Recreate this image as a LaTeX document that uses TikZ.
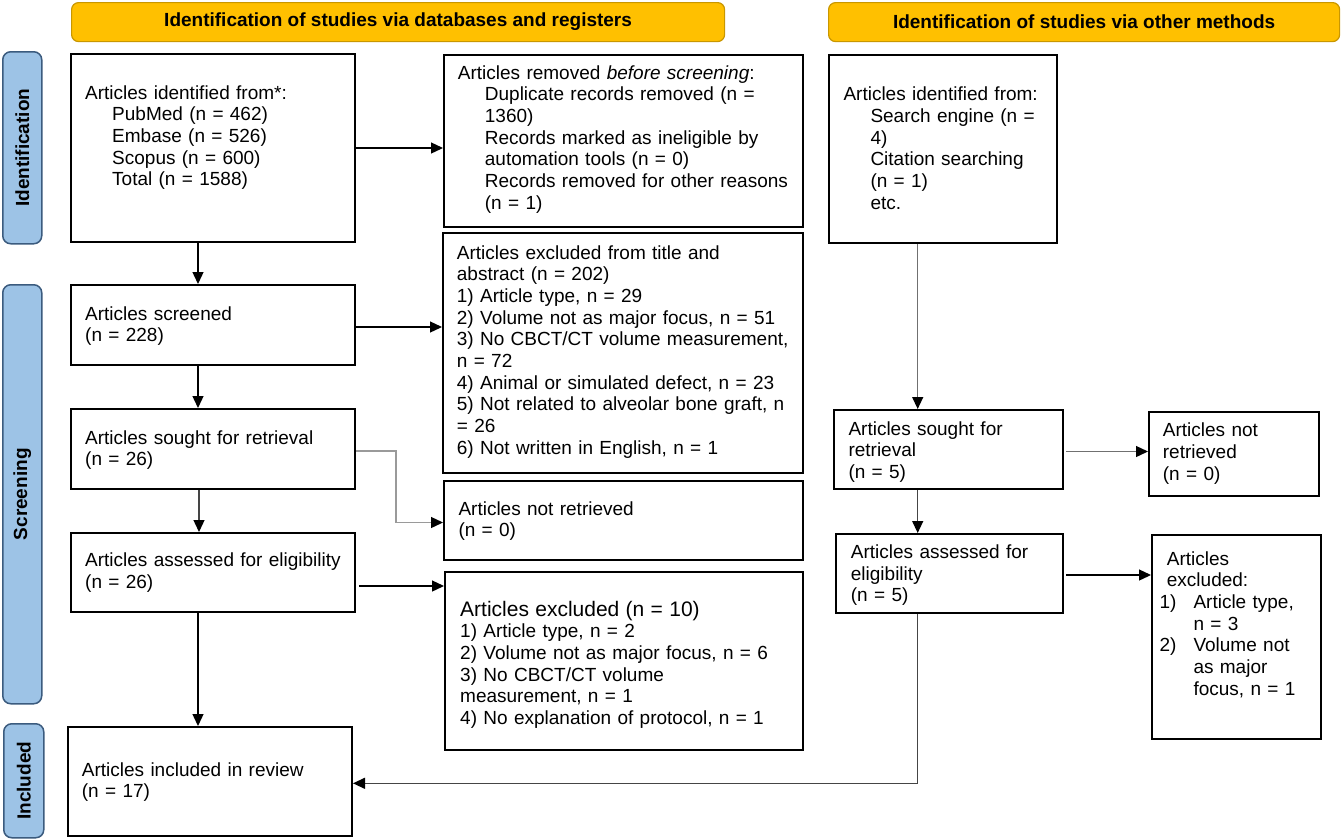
\documentclass[tikz,border=0pt]{standalone}
\usepackage{fontspec}
\setmainfont{Liberation Sans}
\usetikzlibrary{arrows.meta,calc}
\definecolor{hdrfill}{HTML}{FFC000}
\definecolor{hdrdraw}{HTML}{C99700}
\definecolor{sidefill}{HTML}{9DC3E6}
\definecolor{sidedraw}{HTML}{3B5B7E}
\definecolor{lgray}{HTML}{9A9A9A}
\definecolor{mgray}{HTML}{707070}
\definecolor{dgray}{HTML}{454545}
\tikzset{
  box/.style={draw=black, line width=2pt, fill=white, anchor=north west, inner sep=0pt, rectangle},
  hdr/.style={draw=hdrdraw, fill=hdrfill, line width=1.2pt, rounded corners=7pt, anchor=north west, inner sep=0pt,
              font=\fontsize{19}{22}\selectfont\bfseries},
  side/.style={draw=sidedraw, fill=sidefill, line width=1.5pt, rounded corners=8pt, anchor=north west, inner sep=0pt},
  sidetxt/.style={rotate=90, font=\fontsize{19}{22}\selectfont\bfseries},
  txt/.style={anchor=base west, inner sep=0pt, align=left, text width=#1,
              font=\fontsize{19}{21.7}\selectfont},
  txt/.default=400pt,
  arr/.style={line width=1.3pt, -{Triangle[length=12pt, width=11pt, color=black]}},
}
\newcommand{\ind}{\hspace*{27pt}}
\begin{document}
\begin{tikzpicture}[x=1pt, y=-1pt]
\useasboundingbox (0,0) rectangle (1344,839);

% headers
\node[hdr, minimum width=653pt, minimum height=39pt] (h1) at (71,2) {};
\node[font=\fontsize{19}{22}\selectfont\bfseries] (h1t) at (h1.center) {Identification of studies via databases and registers};
\node[hdr, minimum width=511pt, minimum height=39pt] (h2) at (828,2) {};
\node[font=\fontsize{19}{22}\selectfont\bfseries] (h2t) at (h2.center) {Identification of studies via other methods};

% side labels
\node[side, minimum width=39pt, minimum height=192pt] (s1) at (2,51) {};
\node[sidetxt] (s1t) at (s1.center) {Identification};
\node[side, minimum width=39pt, minimum height=419pt] (s2) at (2,284) {};
\node[sidetxt] (s2t) at (s2.center) {Screening};
\node[side, minimum width=40pt, minimum height=114pt] (s3) at (3,723) {};
\node[sidetxt] (s3t) at (s3.center) {Included};

% boxes
\node[box, minimum width=284pt, minimum height=188pt] (A) at (70,53) {};
\node[box, minimum width=359pt, minimum height=172pt] (B) at (443,54) {};
\node[box, minimum width=228pt, minimum height=188pt] (C) at (828,54) {};
\node[box, minimum width=284pt, minimum height=80pt] (D) at (70,284) {};
\node[box, minimum width=360pt, minimum height=240pt] (E) at (442,232) {};
\node[box, minimum width=284pt, minimum height=80pt] (F) at (70,408) {};
\node[box, minimum width=359pt, minimum height=79pt] (G) at (443,480) {};
\node[box, minimum width=284pt, minimum height=79pt] (H) at (70,532) {};
\node[box, minimum width=358pt, minimum height=178pt] (I) at (444,571) {};
\node[box, minimum width=284pt, minimum height=109pt] (J) at (67,726) {};
\node[box, minimum width=229pt, minimum height=79pt] (K) at (833,409) {};
\node[box, minimum width=170pt, minimum height=84pt] (L) at (1148,411) {};
\node[box, minimum width=227pt, minimum height=79pt] (M) at (835,533) {};
\node[box, minimum width=169pt, minimum height=204pt] (N) at (1151,534) {};

% texts
\node[txt] (At) at (85,99) {Articles identified from*:\\ \ind PubMed (n = 462)\\ \ind Embase (n = 526)\\ \ind Scopus (n = 600)\\ \ind Total (n = 1588)};
\node[txt] (Bt) at (457.7,79) {Articles removed \textit{before screening}:\\ \ind Duplicate records removed (n =\\ \ind 1360)\\ \ind Records marked as ineligible by\\ \ind automation tools (n = 0)\\ \ind Records removed for other reasons\\ \ind (n = 1)};
\node[txt] (Ct) at (843.3,100.7) {Articles identified from:\\ \ind Search engine (n =\\ \ind 4)\\ \ind Citation searching\\ \ind (n = 1)\\ \ind etc.};
\node[txt] (Dt) at (85,320) {Articles screened\\(n = 228)};
\node[txt] (Et) at (456.7,259) {Articles excluded from title and\\ abstract (n = 202)\\ 1) Article type, n = 29\\ 2) Volume not as major focus, n = 51\\ 3) No CBCT/CT volume measurement,\\ n = 72\\ 4) Animal or simulated defect, n = 23\\ 5) Not related to alveolar bone graft, n\\ = 26\\ 6) Not written in English, n = 1};
\node[txt] (Ft) at (85,444) {Articles sought for retrieval\\(n = 26)};
\node[txt] (Gt) at (458.3,515) {Articles not retrieved\\(n = 0)};
\node[txt] (Ht) at (85,566.7) {Articles assessed for eligibility\\(n = 26)};
\node[txt] (It) at (460,616.7) {{\fontsize{21}{22}\selectfont Articles excluded (n = 10)}\\[-0.6pt] 1) Article type, n = 2\\ 2) Volume not as major focus, n = 6\\ 3) No CBCT/CT volume\\ measurement, n = 1\\ 4) No explanation of protocol, n = 1};
\node[txt] (Jt) at (81.7,776) {Articles included in review\\(n = 17)};
\node[txt] (Kt) at (848.3,435) {Articles sought for\\retrieval\\(n = 5)};
\node[txt] (Lt) at (1162.7,436.7) {Articles not\\retrieved\\(n = 0)};
\node[txt] (Mt) at (850.7,558.3) {Articles assessed for\\eligibility\\(n = 5)};
\node[txt] (Nt) at (1159.3,565) {\hspace*{7.4pt}Articles\\ \hspace*{7.4pt}excluded:\\ \makebox[34pt][l]{1)}Article type,\\ \hspace*{34pt}n = 3\\ \makebox[34pt][l]{2)}Volume not\\ \hspace*{34pt}as major\\ \hspace*{34pt}focus, n = 1};

% connectors
\draw[arr] ([xshift=-15pt]A.south) -- ([xshift=-15pt]D.north);
\draw[arr] (A.east) -- (A.east -| B.west);
\draw[arr] ([yshift=-2pt]D.east) -- ([yshift=-2pt]D.east -| E.west);
\draw[arr] ([xshift=-15pt]D.south) -- ([xshift=-15pt]F.north);
\draw[arr, draw=lgray] ([yshift=-2pt]F.east) -| ([xshift=-47pt,yshift=-2pt]G.west) -- ([yshift=-2pt]G.west);
\draw[arr, draw=dgray] ([xshift=-14pt]F.south) -- ([xshift=-14pt]H.north);
\draw[arr] ([xshift=3pt,yshift=-13.5pt]H.east) -- ([yshift=-13.5pt]H.east -| I.west);
\draw[arr] ([xshift=-15pt]H.south) -- ([xshift=-15pt]H.south |- J.north);
\draw[arr, draw=mgray] ([xshift=-25.3pt]C.south) -- ([xshift=-25.3pt]C.south |- K.north);
\draw[arr, draw=mgray] ([xshift=2pt,yshift=-2pt]K.east) -- ([yshift=-2pt]K.east -| L.west);
\draw[arr, draw=dgray] ([xshift=-30.8pt]K.south) -- ([xshift=-30.8pt]K.south |- M.north);
\draw[arr] ([xshift=2pt,yshift=-1.5pt]M.east) -- ([yshift=-1.5pt]M.east -| N.west);
\draw[arr, draw=dgray] ([xshift=-31.8pt]M.south) |- ([yshift=-1.8pt]J.east);
\end{tikzpicture}
\end{document}
